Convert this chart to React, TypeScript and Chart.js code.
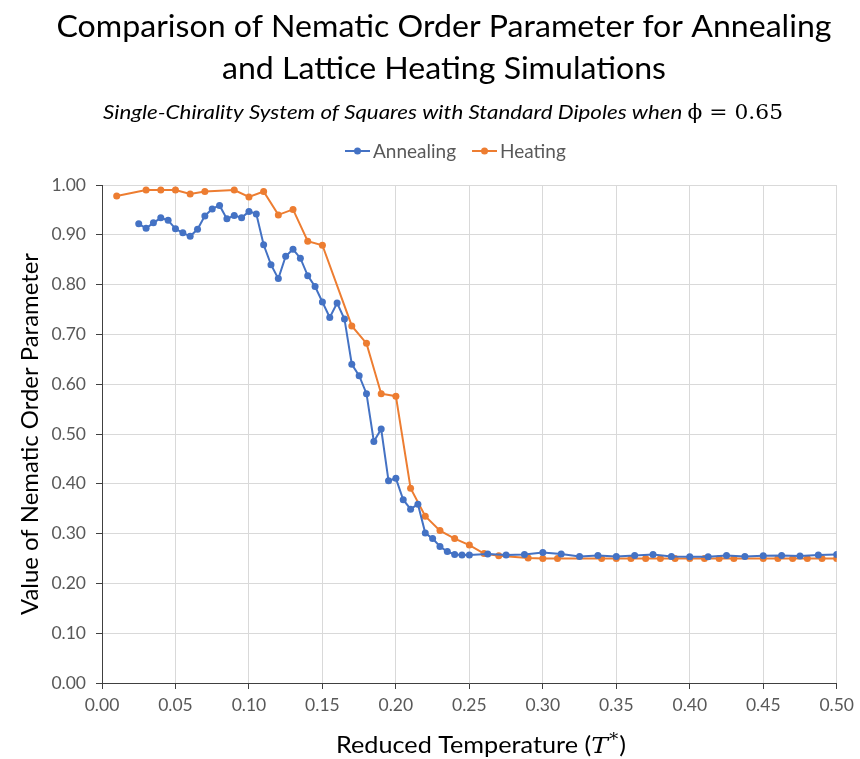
import React, { useEffect, useRef } from "react";
import { Chart, registerables } from "chart.js";

Chart.register(...registerables);

const TITLE_LINES = [
  "Comparison of Nematic Order Parameter for Annealing",
  "and Lattice Heating Simulations",
];
const SUBTITLE_TEXT = "Single-Chirality System of Squares with Standard Dipoles when ";
const SUBTITLE_MATH = "\u03D5 = 0.65";
const X_TITLE = "Reduced Temperature (";
const Y_TITLE = "Value of Nematic Order Parameter";
const SERIES_NAMES = ["Annealing", "Heating"];
const SERIES_COLORS = ["#4472C4", "#ED7D31"];

const annealingT = [
  0.025, 0.03, 0.035, 0.04, 0.045, 0.05, 0.055, 0.06, 0.065, 0.07, 0.075, 0.08,
  0.085, 0.09, 0.095, 0.1, 0.105, 0.11, 0.115, 0.12, 0.125, 0.13, 0.135, 0.14,
  0.145, 0.15, 0.155, 0.16, 0.165, 0.17, 0.175, 0.18, 0.185, 0.19, 0.195, 0.2,
  0.205, 0.21, 0.215, 0.22, 0.225, 0.23, 0.235, 0.24, 0.245, 0.25, 0.2625,
  0.275, 0.2875, 0.3, 0.3125, 0.325, 0.3375, 0.35, 0.3625, 0.375, 0.3875, 0.4,
  0.4125, 0.425, 0.4375, 0.45, 0.4625, 0.475, 0.4875, 0.5,
];
const annealingS = [
  0.922, 0.913, 0.924, 0.934, 0.929, 0.912, 0.904, 0.897, 0.911, 0.938, 0.952,
  0.959, 0.932, 0.939, 0.934, 0.947, 0.942, 0.88, 0.84, 0.812, 0.857, 0.871,
  0.853, 0.818, 0.796, 0.765, 0.734, 0.763, 0.731, 0.64, 0.617, 0.581, 0.485,
  0.51, 0.406, 0.411, 0.368, 0.349, 0.359, 0.301, 0.29, 0.274, 0.264, 0.258,
  0.257, 0.257, 0.259, 0.257, 0.258, 0.262, 0.259, 0.254, 0.256, 0.254, 0.256,
  0.258, 0.254, 0.2535, 0.2535, 0.256, 0.254, 0.2555, 0.256, 0.255, 0.257,
  0.258,
];
const heatingT = [
  0.01, 0.03, 0.04, 0.05, 0.06, 0.07, 0.09, 0.1, 0.11, 0.12, 0.13, 0.14, 0.15,
  0.17, 0.18, 0.19, 0.2, 0.21, 0.22, 0.23, 0.24, 0.25, 0.26, 0.27, 0.29, 0.3,
  0.31, 0.34, 0.35, 0.36, 0.37, 0.38, 0.39, 0.4, 0.41, 0.42, 0.43, 0.45, 0.46,
  0.47, 0.48, 0.49, 0.5,
];
const heatingS = [
  0.978, 0.99, 0.99, 0.99, 0.982, 0.987, 0.99, 0.976, 0.987, 0.94, 0.951,
  0.887, 0.879, 0.717, 0.682, 0.581, 0.576, 0.391, 0.335, 0.306, 0.29, 0.277,
  0.26, 0.2555, 0.251, 0.25, 0.25, 0.25, 0.25, 0.25, 0.25, 0.25, 0.25, 0.25,
  0.25, 0.25, 0.25, 0.25, 0.25, 0.25, 0.25, 0.25, 0.25,
];

const FONT = "Lato";

type Piece = { text: string; font: string; dy?: number; gap?: number };

// draw a run of text pieces, horizontally squeezed to a target width, centred at cx
function drawRun(ctx: CanvasRenderingContext2D, pieces: Piece[], cx: number, baseline: number, target: number) {
  let total = 0;
  const widths = pieces.map((p) => {
    ctx.font = p.font;
    const w = ctx.measureText(p.text).width + (p.gap || 0);
    total += w;
    return w;
  });
  const k = target / total;
  ctx.save();
  ctx.translate(cx - target / 2, baseline);
  ctx.scale(k, 1);
  ctx.textAlign = "left";
  ctx.textBaseline = "alphabetic";
  let x = 0;
  pieces.forEach((p, i) => {
    ctx.font = p.font;
    ctx.fillText(p.text, x, p.dy || 0);
    x += widths[i];
  });
  ctx.restore();
}

const headerPlugin = {
  id: "header",
  afterDraw(chart: any) {
    const ctx: CanvasRenderingContext2D = chart.ctx;
    const area = chart.chartArea;
    ctx.save();
    ctx.fillStyle = "#000";
    // Title
    const tf = `normal 31px ${FONT}`;
    ctx.font = tf;
    const l1 = ctx.measureText(TITLE_LINES[0]).width;
    const l2 = ctx.measureText(TITLE_LINES[1]).width;
    const k = 775 / l1;
    drawRun(ctx, [{ text: TITLE_LINES[0], font: tf }], 444, 37, 775);
    drawRun(ctx, [{ text: TITLE_LINES[1], font: tf }], 444, 78.5, l2 * k);
    // Subtitle
    drawRun(
      ctx,
      [
        { text: SUBTITLE_TEXT, font: `italic 20px ${FONT}` },
        { text: SUBTITLE_MATH, font: `normal 19.5px 'DejaVu Serif'` },
      ],
      443,
      118.5,
      680
    );
    // Legend
    ctx.font = `normal 19px ${FONT}`;
    ctx.textBaseline = "middle";
    ctx.textAlign = "left";
    const mk = 25;
    const gapText = 3;
    const gapItem = 16;
    let lx = 345;
    const ly = 151;
    SERIES_NAMES.forEach((n, i) => {
      const w = ctx.measureText(n).width;
      ctx.strokeStyle = SERIES_COLORS[i];
      ctx.lineWidth = 2;
      ctx.beginPath();
      ctx.moveTo(lx, ly);
      ctx.lineTo(lx + mk, ly);
      ctx.stroke();
      ctx.fillStyle = SERIES_COLORS[i];
      ctx.beginPath();
      ctx.arc(lx + mk / 2, ly, 3.5, 0, Math.PI * 2);
      ctx.fill();
      ctx.fillStyle = "#595959";
      ctx.fillText(n, lx + mk + gapText, ly + 1);
      lx += mk + gapText + w + gapItem;
    });
    // X title
    ctx.fillStyle = "#000";
    drawRun(
      ctx,
      [
        { text: X_TITLE, font: `normal 22.5px ${FONT}` },
        { text: "T", font: `italic 22.5px 'DejaVu Serif'`, gap: 1 },
        { text: "*", font: `normal 16px 'DejaVu Serif'`, dy: -8, gap: 1 },
        { text: ")", font: `normal 22.5px ${FONT}` },
      ],
      481,
      753,
      290
    );
    // Y title
    ctx.translate(38, (area.top + area.bottom) / 2);
    ctx.rotate(-Math.PI / 2);
    drawRun(ctx, [{ text: Y_TITLE, font: `normal 23px ${FONT}` }], 0, 0, 362);
    ctx.restore();
  },
};

const bgPlugin = {
  id: "bg",
  beforeDraw(chart: any) {
    const ctx = chart.ctx;
    ctx.save();
    ctx.fillStyle = "#fff";
    ctx.fillRect(0, 0, chart.width, chart.height);
    ctx.restore();
  },
};

export default function App() {
  const ref = useRef<HTMLCanvasElement>(null);
  useEffect(() => {
    document.body.style.margin = "0";
    const ctx = ref.current!.getContext("2d")!;
    const mk = (t: number[], s: number[]) => t.map((x, i) => ({ x, y: s[i] }));
    const chart = new Chart(ctx, {
      type: "line",
      data: {
        datasets: [
          {
            label: SERIES_NAMES[0],
            data: mk(annealingT, annealingS),
            borderColor: SERIES_COLORS[0],
            backgroundColor: SERIES_COLORS[0],
            borderWidth: 2,
            pointRadius: 3.5,
            pointBorderWidth: 0,
            tension: 0,
          },
          {
            label: SERIES_NAMES[1],
            data: mk(heatingT, heatingS),
            borderColor: SERIES_COLORS[1],
            backgroundColor: SERIES_COLORS[1],
            borderWidth: 2,
            pointRadius: 3.5,
            pointBorderWidth: 0,
            tension: 0,
          },
        ],
      },
      options: {
        responsive: false,
        animation: false,
        layout: { padding: { top: 185, right: 20, left: 0, bottom: 0 } },
        plugins: { legend: { display: false }, title: { display: false }, tooltip: { enabled: false } },
        scales: {
          x: {
            type: "linear",
            min: 0,
            max: 0.5,
            afterFit: (s: any) => {
              s.height = 76;
            },
            ticks: {
              stepSize: 0.05,
              callback: (v: any) => Number(v).toFixed(2),
              color: "#595959",
              font: { family: FONT, size: 17.5 },
              padding: 6,
              maxRotation: 0,
              autoSkip: false,
            },
            grid: { color: "#d9d9d9", tickColor: "#404040", tickLength: 6, lineWidth: 1 },
            border: { color: "#404040", width: 1 },
          },
          y: {
            min: 0,
            max: 1,
            afterFit: (s: any) => {
              s.width = 102;
            },
            ticks: {
              stepSize: 0.1,
              callback: (v: any) => Number(v).toFixed(2),
              color: "#595959",
              font: { family: FONT, size: 17.5 },
              padding: 10,
            },
            grid: { color: "#d9d9d9", tickColor: "#404040", tickLength: 6, lineWidth: 1 },
            border: { color: "#404040", width: 1 },
          },
        },
      },
      plugins: [bgPlugin, headerPlugin],
    });
    return () => chart.destroy();
  }, []);
  return (
    <div style={{ position: "fixed", left: 0, top: 0, width: 860, height: 759 }}>
      <canvas ref={ref} width={860} height={759} />
    </div>
  );
}
